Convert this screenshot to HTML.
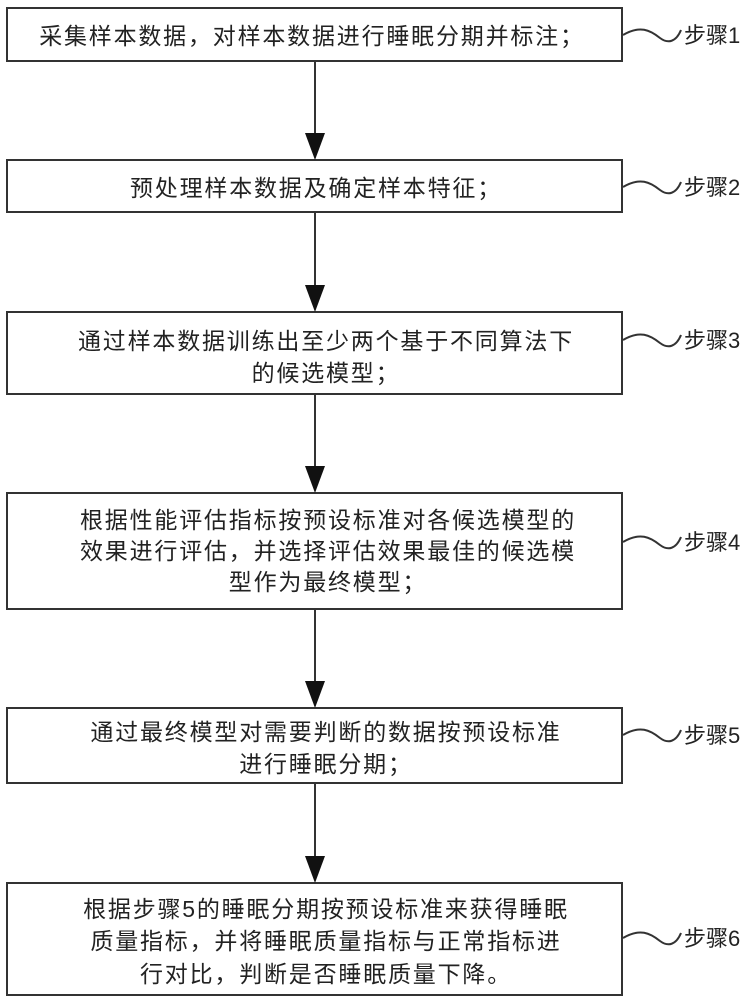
<!DOCTYPE html>
<html><head><meta charset="utf-8"><style>
html,body{margin:0;padding:0;background:#fff;}
svg{display:block;}
text{font-family:"Liberation Sans","Noto Sans CJK SC",sans-serif;font-size:23px;fill:#222;letter-spacing:1.8px;}
.s{letter-spacing:0;font-size:22px;}
</style></head><body>
<svg width="753" height="1000" viewBox="0 0 753 1000" xmlns="http://www.w3.org/2000/svg">
<g fill="none" stroke="#333" stroke-width="2">
<rect x="7" y="8" width="615" height="53"/>
<rect x="7" y="160" width="615" height="52"/>
<rect x="7" y="312" width="615" height="82"/>
<rect x="7" y="493" width="615" height="116"/>
<rect x="7" y="708" width="615" height="75"/>
<rect x="7" y="883" width="615" height="112"/>
<line x1="315" y1="61" x2="315" y2="135"/>
<line x1="315" y1="212" x2="315" y2="287"/>
<line x1="315" y1="394" x2="315" y2="468"/>
<line x1="315" y1="609" x2="315" y2="683"/>
<line x1="315" y1="783" x2="315" y2="858"/>
<path d="M623 35 C640 25,650 30,660 38 C668 44,676 42,681 30"/>
<path d="M623 187 C640 177,650 182,660 190 C668 196,676 194,681 182"/>
<path d="M623 340 C640 330,650 335,660 343 C668 349,676 347,681 335"/>
<path d="M623 542 C640 532,650 537,660 545 C668 551,676 549,681 537"/>
<path d="M623 735 C640 725,650 730,660 738 C668 744,676 742,681 730"/>
<path d="M623 938 C640 928,650 933,660 941 C668 947,676 945,681 933"/>
</g>
<g fill="#111">
<polygon points="305,133 325,133 315,160"/>
<polygon points="305,285 325,285 315,312"/>
<polygon points="305,466 325,466 315,493"/>
<polygon points="305,681 325,681 315,708"/>
<polygon points="305,856 325,856 315,883"/>
</g>
<g text-anchor="middle">
<text x="312" y="44">采集样本数据，对样本数据进行睡眠分期并标注；</text>
<text x="316" y="196">预处理样本数据及确定样本特征；</text>
<text x="326" y="349">通过样本数据训练出至少两个基于不同算法下</text>
<text x="326" y="381">的候选模型；</text>
<text x="328" y="528">根据性能评估指标按预设标准对各候选模型的</text>
<text x="328" y="559">效果进行评估，并选择评估效果最佳的候选模</text>
<text x="328" y="590">型作为最终模型；</text>
<text x="326" y="740">通过最终模型对需要判断的数据按预设标准</text>
<text x="326" y="772">进行睡眠分期；</text>
<text x="326" y="917">根据步骤5的睡眠分期按预设标准来获得睡眠</text>
<text x="326" y="949">质量指标，并将睡眠质量指标与正常指标进</text>
<text x="326" y="982">行对比，判断是否睡眠质量下降。</text>
</g>
<text class="s" x="684" y="43">步骤1</text>
<text class="s" x="684" y="195">步骤2</text>
<text class="s" x="684" y="348">步骤3</text>
<text class="s" x="684" y="550">步骤4</text>
<text class="s" x="684" y="743">步骤5</text>
<text class="s" x="684" y="946">步骤6</text>
</svg>
</body></html>
